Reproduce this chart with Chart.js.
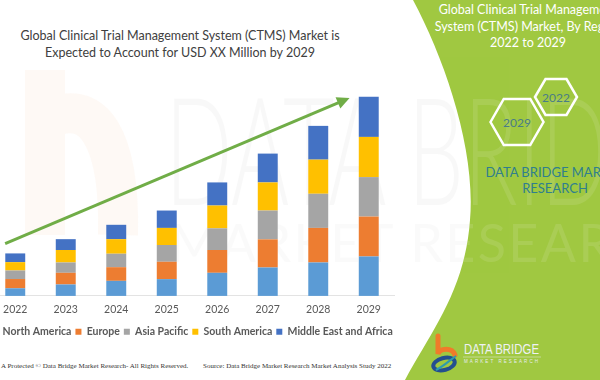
<!DOCTYPE html>
<html>
<head>
<meta charset="utf-8">
<script src="https://cdn.jsdelivr.net/npm/chart.js@4.4.0/dist/chart.umd.min.js"></script>
<style>
  body { margin: 0; width: 600px; height: 380px; overflow: hidden; position: relative; background: #fff; font-family: Lato, "Open Sans", sans-serif; }
  #bg { position: absolute; left: 0; top: 0; }
  .title { position: absolute; left: 0; width: 360px; text-align: center; color: #404040; font-size: 12.5px; line-height: 17px; top: 27px; }
  .side { position: absolute; left: 428px; width: 200px; text-align: center; color: #fff; font-size: 12.5px; line-height: 16.5px; top: 2px; white-space: nowrap; }
  .dbmr { position: absolute; left: 455px; width: 200px; text-align: center; color: #2f7f8e; font-size: 13px; line-height: 16px; top: 164px; white-space: nowrap; }
  #wrap { position: absolute; left: -28px; top: 80px; width: 440px; height: 267px; }
  .foot { position: absolute; top: 362px; font-family: "Liberation Serif", serif; font-size: 7px; color: #333; white-space: nowrap; }
</style>
</head>
<body>
<svg id="bg" width="600" height="380" xmlns="http://www.w3.org/2000/svg">
  <defs>
    <clipPath id="panelClip"><path d="M413,0 C445,60 476,150 470,220 C465,290 432,330 405,380 L600,380 L600,0 Z"/></clipPath>
  </defs>
  <!-- faint watermark on the white side -->
  <path d="M45,70 L45,235 M45,120 C95,95 120,140 118,235" fill="none" stroke="#fbe6d9" stroke-width="40" opacity="0.25"/>
  <text x="165" y="205" font-family="Lato" font-weight="300" font-size="150" textLength="560" lengthAdjust="spacingAndGlyphs" fill="#000" opacity="0.025">DATA BRIDGE</text>
  <text x="170" y="262" font-family="Lato" font-size="52" textLength="520" lengthAdjust="spacing" fill="#000" opacity="0.015">MARKET RESEARCH</text>
  <!-- green side panel -->
  <path d="M413,0 C445,60 476,150 470,220 C465,290 432,330 405,380 L600,380 L600,0 Z" fill="#a0c841"/>
  <g clip-path="url(#panelClip)" opacity="0.1">
    <text x="165" y="205" font-family="Lato" font-weight="300" font-size="150" textLength="560" lengthAdjust="spacingAndGlyphs" fill="#fff">DATA BRIDGE</text>
    <text x="170" y="262" font-family="Lato" font-size="52" textLength="520" lengthAdjust="spacing" fill="#fff">MARKET RESEARCH</text>
  </g>
  <!-- hexagons -->
  <polygon points="535,97 545.5,79 566.5,79 577,97 566.5,115 545.5,115" fill="none" stroke="#fff" stroke-width="2.5"/>
  <polygon points="490.5,122 503.75,99 530.25,99 543.5,122 530.25,145 503.75,145" fill="none" stroke="#fff" stroke-width="2.5"/>
  <text x="556" y="101.5" text-anchor="middle" font-family="Lato" font-size="12" fill="#4a7d86">2022</text>
  <text x="517" y="126.5" text-anchor="middle" font-family="Lato" font-size="12" fill="#4a7d86">2029</text>
  <!-- logo -->
  <path d="M438,336 L438,354 C440,348 452,347 455,355" fill="none" stroke="#f07b2a" stroke-width="5" stroke-linecap="round"/>
  <ellipse cx="444" cy="364" rx="11" ry="6" transform="rotate(-15 444 364)" fill="none" stroke="#234f8f" stroke-width="4"/>
  <path d="M436,370 C444,366 450,360 456,356" fill="none" stroke="#2b9bb0" stroke-width="2"/>
  <text x="464" y="354" font-family="Liberation Sans Narrow, Liberation Sans" font-size="15" textLength="75" lengthAdjust="spacingAndGlyphs" fill="#eef1f4">DATA BRIDGE</text>
  <line x1="463" y1="357" x2="541" y2="357" stroke="#dfe6d0" stroke-width="0.6"/>
  <text x="464" y="363" font-family="Liberation Sans" font-size="4.5" textLength="74" lengthAdjust="spacing" fill="#e6ecef">MARKET RESEARCH</text>
</svg>

<div class="title">Global Clinical Trial Management System (CTMS) Market is<br>Expected to Account for USD XX Million by 2029</div>
<div class="side">Global Clinical Trial Management<br>System (CTMS) Market, By Region<br>2022 to 2029</div>
<div class="dbmr">DATA BRIDGE MARKET<br>RESEARCH</div>

<div id="wrap"><canvas id="chart"></canvas></div>

<div class="foot" style="left:1px;">A Protected © Data Bridge Market Research- All Rights Reserved.</div>
<div class="foot" style="left:203px;">Source: Data Bridge Market Research Market Analysis Study 2022</div>

<script>
// years on the x axis
const years = ['2022', '2023', '2024', '2025', '2026', '2027', '2028', '2029'];

// stacked segment values per region (relative units)
const northAmerica = [7.6, 11.4, 15.0, 16.7, 23.0, 28.3, 33.3, 39.3];
const europe       = [9.2, 11.6, 13.6, 17.3, 22.7, 28.0, 34.4, 39.7];
const asiaPacific  = [8.5, 10.3, 13.4, 16.7, 21.6, 28.7, 34.0, 39.3];
const southAmerica = [8.3, 12.4, 14.5, 17.0, 22.7, 28.0, 34.0, 40.0];
const middleEast   = [8.7, 10.8, 14.3, 17.3, 23.0, 28.7, 33.6, 40.0];

const seriesNames = ['North America', 'Europe', 'Asia Pacific', 'South America', 'Middle East and Africa'];
const seriesColors = ['#5b9bd5', '#ed7d31', '#a5a5a5', '#ffc000', '#4472c4'];

// growth arrow, in axis units: [category index, value]
const arrowFrom = [-0.2, 52];
const arrowTo = [6.62, 197];

const arrowPlugin = {
    id: 'growthArrow',
    afterDatasetsDraw(chart) {
        const ctx = chart.ctx;
        const xs = chart.scales.x, ys = chart.scales.y;
        const step = xs.getPixelForValue(1) - xs.getPixelForValue(0);
        const x1 = xs.getPixelForValue(0) + arrowFrom[0] * step;
        const y1 = ys.getPixelForValue(arrowFrom[1]);
        const x2 = xs.getPixelForValue(0) + arrowTo[0] * step;
        const y2 = ys.getPixelForValue(arrowTo[1]);
        const ang = Math.atan2(y2 - y1, x2 - x1);
        const head = 14;
        ctx.save();
        ctx.strokeStyle = '#70ad47';
        ctx.fillStyle = '#70ad47';
        ctx.lineWidth = 3;
        ctx.beginPath();
        ctx.moveTo(x1, y1);
        ctx.lineTo(x2 - Math.cos(ang) * head * 0.8, y2 - Math.sin(ang) * head * 0.8);
        ctx.stroke();
        ctx.beginPath();
        ctx.moveTo(x2, y2);
        ctx.lineTo(x2 - head * Math.cos(ang - 0.45), y2 - head * Math.sin(ang - 0.45));
        ctx.lineTo(x2 - head * Math.cos(ang + 0.45), y2 - head * Math.sin(ang + 0.45));
        ctx.closePath();
        ctx.fill();
        ctx.restore();
    }
};

const allSeries = [northAmerica, europe, asiaPacific, southAmerica, middleEast];

// invisible side axes keep the plot narrower than the (full width) legend
const hiddenAxis = {
    display: true,
    grid: { display: false },
    border: { display: false },
    ticks: { display: false },
    afterFit: function(scale) { scale.width = 18; }
};

new Chart(document.getElementById('chart'), {
    type: 'bar',
    data: {
        labels: years,
        datasets: allSeries.map((vals, i) => ({
            label: seriesNames[i],
            data: vals,
            backgroundColor: seriesColors[i],
            borderWidth: 0,
            categoryPercentage: 0.5,
            barPercentage: 0.79
        }))
    },
    options: {
        responsive: true,
        maintainAspectRatio: false,
        animation: false,
        layout: { padding: { top: 5, left: 0, right: 0, bottom: 0 } },
        scales: {
            x: {
                stacked: true,
                grid: { display: false, drawTicks: false },
                border: { display: true, color: '#e3e3e3' },
                ticks: { color: '#595959', padding: 7, font: { family: 'Lato', size: 10.5 } }
            },
            y: Object.assign({}, hiddenAxis, {
                stacked: true,
                position: 'left',
                min: 0,
                max: 210
            }),
            yRight: Object.assign({}, hiddenAxis, {
                type: 'linear',
                position: 'right'
            })
        },
        plugins: {
            legend: {
                position: 'bottom',
                labels: {
                    boxWidth: 6,
                    boxHeight: 6,
                    padding: 4,
                    color: '#595959',
                    font: { family: 'Lato', size: 10.5, weight: 'bold' }
                }
            },
            tooltip: { enabled: false }
        }
    },
    plugins: [arrowPlugin]
});
</script>
</body>
</html>
